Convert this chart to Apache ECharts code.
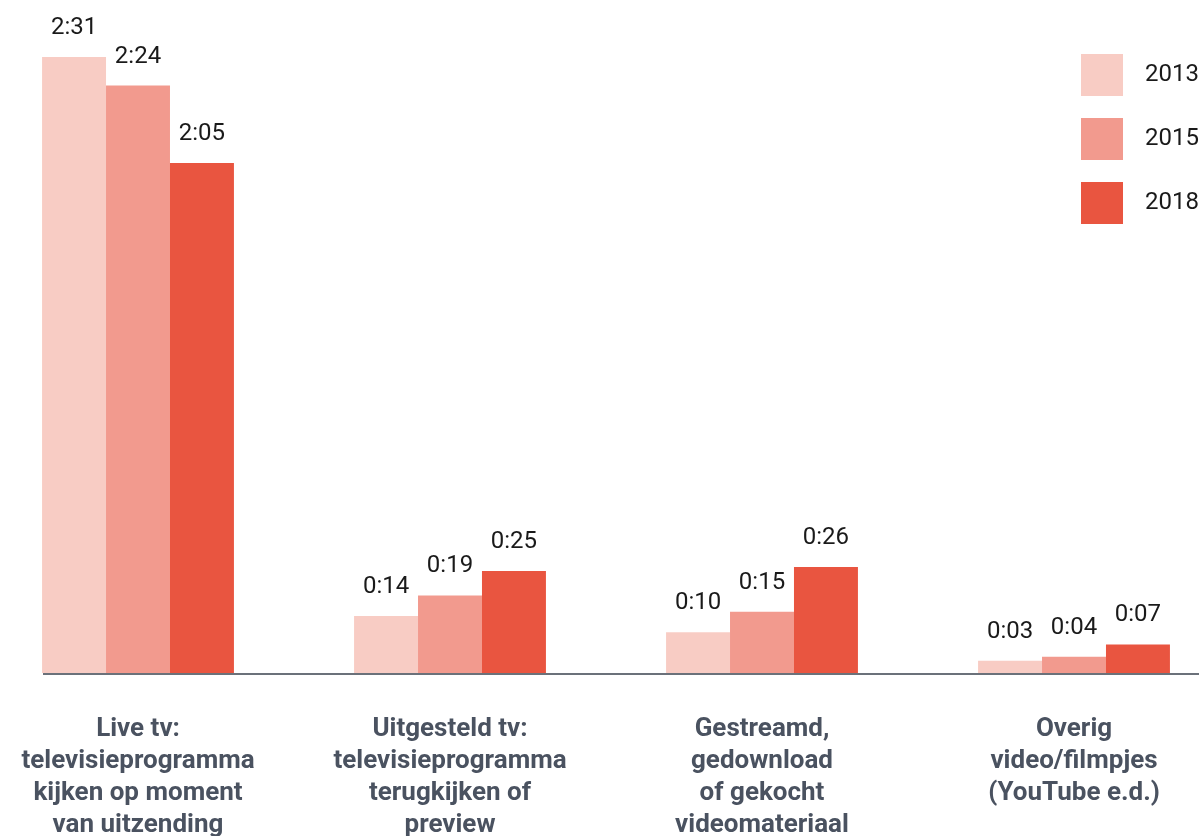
<!DOCTYPE html>
<html>
<head>
<meta charset="utf-8">
<script src="https://cdn.jsdelivr.net/npm/echarts@6/dist/echarts.min.js"></script>
<style>
  html, body { margin: 0; padding: 0; background: #fff; }
  #main { width: 1199px; height: 836px; }
</style>
</head>
<body>
<div id="main"></div>
<script>
// categorieën (x-as)
const categories = [
  'Live tv:\ntelevisieprogramma\nkijken op moment\nvan uitzending',
  'Uitgesteld tv:\ntelevisieprogramma\nterugkijken of\npreview',
  'Gestreamd,\ngedownload\nof gekocht\nvideomateriaal',
  'Overig\nvideo/filmpjes\n(YouTube e.d.)'
];
const years = ['2013', '2015', '2018'];

// kijktijd per dag in minuten
const minutes2013 = [151, 14, 10, 3];
const minutes2015 = [144, 19, 15, 4];
const minutes2018 = [125, 25, 26, 7];

const colors = ['#f8ccc4', '#f29a8e', '#e95540'];

// minuten -> u:mm
function toTime(m) {
  const h = Math.floor(m / 60);
  const mm = m % 60;
  return h + ':' + (mm < 10 ? '0' : '') + mm;
}

const chart = echarts.init(document.getElementById('main'));

const seriesData = [minutes2013, minutes2015, minutes2018];
const maxValue = Math.max(...minutes2013, ...minutes2015, ...minutes2018);

const option = {
  animation: false,
  textStyle: { fontFamily: 'Roboto' },
  color: colors,
  legend: {
    orient: 'vertical',
    left: 1081,
    top: 54,
    padding: 0,
    itemWidth: 42,
    itemHeight: 42,
    itemGap: 22,
    icon: 'rect',
    data: years,
    textStyle: {
      fontSize: 24,
      color: '#1a1a1a',
      fontFamily: 'Roboto',
      padding: [0, 0, 0, 17]
    }
  },
  grid: {
    left: -18,
    right: -31,
    top: 57,
    bottom: 163,
    outerBoundsMode: 'none'
  },
  xAxis: {
    type: 'category',
    data: categories,
    axisLine: { show: false },
    axisTick: { show: false },
    axisLabel: {
      margin: 40,
      fontSize: 26,
      fontWeight: 'bold',
      lineHeight: 32,
      color: '#4a5260',
      fontFamily: 'Roboto',
      interval: 0
    }
  },
  yAxis: {
    type: 'value',
    min: 0,
    max: maxValue,
    show: false,
    splitLine: { show: false }
  },
  // horizontale basislijn
  graphic: [{
    type: 'rect',
    shape: { x: 43, y: 673, width: 1156, height: 2 },
    style: { fill: '#6b717a' },
    z: 10
  }],
  series: years.map((y, i) => ({
    name: y,
    type: 'bar',
    data: seriesData[i],
    barGap: '0%',
    barCategoryGap: '38.5%',
    label: {
      show: true,
      position: 'top',
      distance: 17,
      fontSize: 24,
      color: '#1a1a1a',
      fontFamily: 'Roboto',
      formatter: p => toTime(p.value)
    }
  }))
};

chart.setOption(option);
</script>
</body>
</html>
